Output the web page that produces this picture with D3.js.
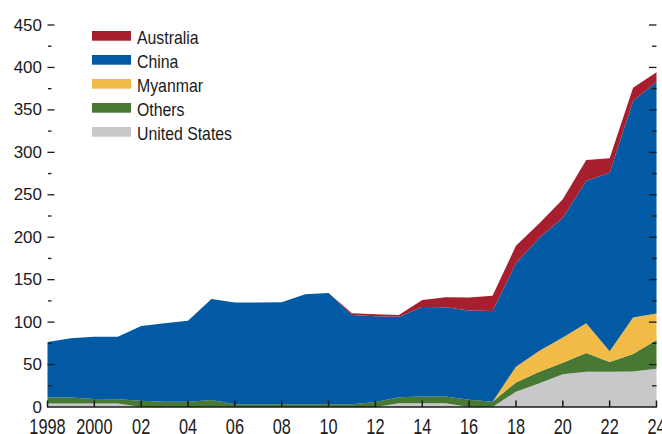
<!DOCTYPE html>
<html><head><meta charset="utf-8">
<script src="https://cdn.jsdelivr.net/npm/d3@7"></script>
<style>
html,body{margin:0;padding:0;background:#fff;}
svg{display:block;}
text{font-family:"Liberation Sans",Arial,sans-serif;fill:#1a1a1a;}
</style></head>
<body>
<svg id="chart" width="662" height="434"></svg>
<script>
const years = d3.range(1998, 2025);
const unitedStates = [4,4,4,4,0,0,0,0,0,0,0,0,0,0,0,4.5,4.5,4.5,0,0,18,28,38.5,41.6,41.6,41.8,45];
const others = [7.4,7.2,5.4,5,7.4,6.2,6.2,8.2,3.2,3.2,3.2,3.2,3.2,3.2,6,6.9,8,8,8.5,6.3,11,13.6,13.5,22,11.4,20.6,34];
const myanmar = [0,0,0,0,0,0,0,0,0,0,0,0,0,0,0,0,0,0,0,0,18.5,24.7,30,35,12.7,43,31.2];
const china = [65.2,69.7,73.4,73.8,88,92.4,95.5,119,119.8,119.8,120.1,129.5,131.1,105.2,100.8,95,105.3,104.9,105.1,106.7,121.8,133.1,141,167.7,210.3,255,272.9];
const australia = [0,0,0,0,0,0,0,0,0,0,0,0,0,2,2.5,2,8.2,11.8,15.5,18.1,20.7,17,21.6,24.8,17,15.7,11.1];
const seriesNames = ["United States","Others","Myanmar","China","Australia"];
const legendOrder = ["Australia","China","Myanmar","Others","United States"];
const colors = {"Australia":"#A71F2E","China":"#025AA5","Myanmar":"#F2BA47","Others":"#487934","United States":"#C8C8CA"};
const yMajorTicks = d3.range(0, 451, 50);
const yMinorTicks = d3.range(25, 451, 50);
const xTickYears = d3.range(1998, 2025, 2);
const xTickLabel = y => (y === 1998 || y === 2000) ? String(y) : String(y).slice(2);

const table = years.map((yr, i) => ({
  year: yr,
  "United States": unitedStates[i],
  "Others": others[i],
  "Myanmar": myanmar[i],
  "China": china[i],
  "Australia": australia[i]
}));

const svg = d3.select("#chart");
const x = d3.scaleLinear().domain([1998, 2024]).range([47.5, 656.5]);
const y = d3.scaleLinear().domain([0, 450]).range([407, 25]);

const stacked = d3.stack().keys(seriesNames)(table);
const area = d3.area()
  .x(d => x(d.data.year))
  .y0(d => y(d[0]))
  .y1(d => y(d[1]));

svg.append("g").selectAll("path").data(stacked).join("path")
  .attr("d", area)
  .attr("fill", d => colors[d.key]);

// left y axis labels and ticks
const gy = svg.append("g");
gy.selectAll("text").data(yMajorTicks).join("text")
  .attr("x", 42).attr("y", d => y(d) + 5.6)
  .attr("text-anchor", "end")
  .style("font-size", "17px")
  .text(d => d);
gy.selectAll("line.maj").data(yMajorTicks.filter(d => d > 0)).join("line")
  .attr("class","maj")
  .attr("x1", 47.5).attr("x2", 54.5).attr("y1", d => y(d)).attr("y2", d => y(d))
  .attr("stroke", "#1a1a1a").attr("stroke-width", 1.3);
gy.selectAll("line.min").data(yMinorTicks).join("line")
  .attr("class","min")
  .attr("x1", 48).attr("x2", 51.5).attr("y1", d => y(d)).attr("y2", d => y(d))
  .attr("stroke", "#1a1a1a").attr("stroke-width", 1.3);

// right ticks
const gr = svg.append("g");
gr.selectAll("line.maj").data(yMajorTicks.filter(d => d > 0)).join("line")
  .attr("class","maj")
  .attr("x1", 649).attr("x2", 656.5).attr("y1", d => y(d)).attr("y2", d => y(d))
  .attr("stroke", "#1a1a1a").attr("stroke-width", 1.3);
gr.selectAll("line.min").data(yMinorTicks).join("line")
  .attr("class","min")
  .attr("x1", 652).attr("x2", 656.5).attr("y1", d => y(d)).attr("y2", d => y(d))
  .attr("stroke", "#1a1a1a").attr("stroke-width", 1.3);

// x axis
const gx = svg.append("g");
gx.append("line")
  .attr("x1", x(1998) - 0.5).attr("x2", x(2024) + 0.5)
  .attr("y1", y(0)).attr("y2", y(0))
  .attr("stroke", "#1a1a1a").attr("stroke-width", 1.5);
gx.selectAll("line.t").data(xTickYears).join("line")
  .attr("class","t")
  .attr("x1", d => x(d)).attr("x2", d => x(d))
  .attr("y1", y(0)).attr("y2", y(0) - 6.5)
  .attr("stroke", "#1a1a1a").attr("stroke-width", 1.5);
gx.selectAll("text").data(xTickYears).join("text")
  .attr("transform", d => `translate(${x(d)},433.5) scale(0.76,1)`)
  .attr("text-anchor", "middle")
  .style("font-size", "21.5px")
  .text(xTickLabel);

// legend
const lg = svg.append("g");
const rows = lg.selectAll("g").data(legendOrder).join("g")
  .attr("transform", (d, i) => `translate(92,${31 + i * 24})`);
rows.append("rect").attr("x", 0).attr("y", 0).attr("width", 39).attr("height", 9.7)
  .attr("fill", d => colors[d]);
rows.append("text")
  .attr("transform", "translate(45,12.5) scale(0.88,1)")
  .style("font-size", "18px")
  .text(d => d);
</script>
</body></html>
